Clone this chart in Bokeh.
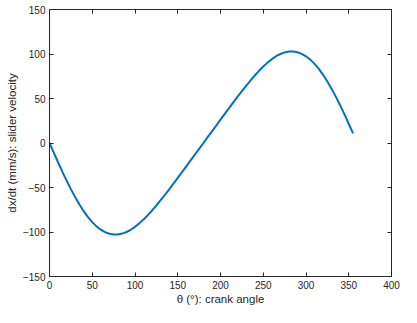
from bokeh.plotting import figure
from bokeh.models import Range1d, LinearAxis, FixedTicker, ColumnDataSource, CustomLabelingPolicy
from bokeh.embed import file_html
from bokeh.resources import INLINE

# crank angle (deg) and slider velocity (mm/s)
theta = [0, 5, 10, 15, 20, 25, 30, 35, 40, 45, 50, 55, 60, 65, 70, 75, 80, 85,
         90, 95, 100, 105, 110, 115, 120, 125, 130, 135, 140, 145, 150, 155, 160, 165, 170, 175,
         180, 185, 190, 195, 200, 205, 210, 215, 220, 225, 230, 235, 240, 245, 250, 255, 260, 265,
         270, 275, 280, 285, 290, 295, 300, 305, 310, 315, 320, 325, 330, 335, 340, 345, 350, 355]
velocity = [0.0, -10.9, -21.6, -32.1, -42.2, -51.8, -60.8, -69.1, -76.6, -83.2, -88.9, -93.7,
            -97.4, -100.2, -102.0, -102.8, -102.8, -101.8,
            -100.0, -97.5, -94.2, -90.3, -85.9, -81.1, -75.8, -70.2, -64.3, -58.2, -52.0, -45.6,
            -39.2, -32.7, -26.2, -19.6, -13.1, -6.6,
            0.0, 6.6, 13.1, 19.6, 26.2, 32.7, 39.2, 45.6, 52.0, 58.2, 64.3, 70.2, 75.8, 81.1,
            85.9, 90.3, 94.2, 97.5,
            100.0, 101.8, 102.8, 102.8, 102.0, 100.2, 97.4, 93.7, 88.9, 83.2, 76.6, 69.1, 60.8, 51.8,
            42.2, 32.1, 21.6, 10.9]

x_ticks = [0, 50, 100, 150, 200, 250, 300, 350, 400]
y_ticks = [-150, -100, -50, 0, 50, 100, 150]
x_label = "θ (°): crank angle"
y_label = "dx/dt (mm/s): slider velocity"

TXT = "#262626"
FONT = "Liberation Sans"

p = figure(width=401, height=307, output_backend="svg", toolbar_location=None,
           x_range=Range1d(x_ticks[0], x_ticks[-1]), y_range=Range1d(y_ticks[0], y_ticks[-1]),
           x_axis_location=None, y_axis_location=None,
           min_border_left=49, min_border_right=10, min_border_top=9, min_border_bottom=30)
p.background_fill_color = "white"
p.border_fill_color = "white"
p.outline_line_color = TXT
p.outline_line_width = 1
p.xgrid.visible = False
p.ygrid.visible = False

def style(ax):
    ax.axis_line_color = TXT
    ax.axis_line_width = 1
    ax.major_tick_line_color = TXT
    ax.major_tick_line_width = 1
    ax.major_tick_in = 4
    ax.major_tick_out = 0
    ax.minor_tick_line_color = None
    ax.major_label_text_color = TXT
    ax.major_label_text_font = FONT
    ax.major_label_text_font_size = "10px"
    ax.axis_label_text_color = TXT
    ax.axis_label_text_font = FONT
    ax.axis_label_text_font_style = "normal"
    ax.axis_label_text_font_size = "11.5px"

xb = LinearAxis(ticker=FixedTicker(ticks=x_ticks), axis_label=x_label)
style(xb)
xb.major_label_standoff = 4
xb.axis_label_standoff = 1
p.add_layout(xb, "below")

yl = LinearAxis(ticker=FixedTicker(ticks=y_ticks), axis_label=y_label)
style(yl)
yl.major_label_standoff = 4
yl.axis_label_standoff = 2
p.add_layout(yl, "left")

# box ticks on top and right (MATLAB "box on"), no labels drawn
for ticks, side in ((x_ticks, "above"), (y_ticks, "right")):
    ax = LinearAxis(ticker=FixedTicker(ticks=ticks),
                    major_label_policy=CustomLabelingPolicy(code="return"))
    style(ax)
    ax.major_label_text_font_size = "1px"
    ax.major_label_standoff = 0
    p.add_layout(ax, side)

src = ColumnDataSource(data=dict(theta=theta, velocity=velocity))
p.line("theta", "velocity", source=src, line_color="#0072BD", line_width=2)

open("out.html", "w").write(file_html(p, INLINE))
